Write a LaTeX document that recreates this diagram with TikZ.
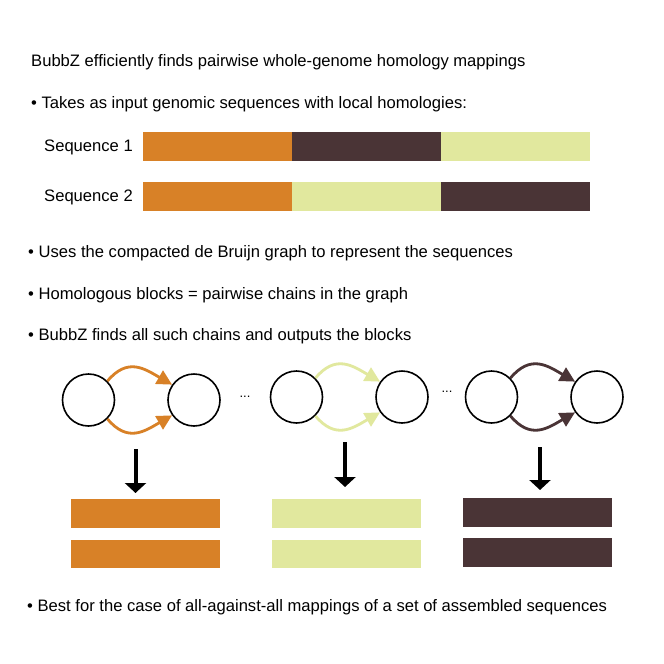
\documentclass[tikz,border=0pt]{standalone}
\usepackage{fontspec}
\setmainfont{Liberation Sans}
\usetikzlibrary{arrows.meta}
\definecolor{orng}{RGB}{216,129,39}
\definecolor{brwn}{RGB}{74,52,54}
\definecolor{lgrn}{RGB}{225,232,158}
\begin{document}
\begin{tikzpicture}[x=1pt,y=-1pt,
 txt/.style={anchor=base west, inner sep=0pt, font=\fontsize{16.6}{19}\selectfont},
 dots/.style={inner sep=0pt, font=\fontsize{13}{15}\selectfont},
 vert/.style={circle, draw=black, line width=1.6pt, minimum size=52pt, inner sep=0pt},
 arcedge/.style={line width=2.8pt, looseness=1.25, -{Triangle[length=15pt,width=15pt]}},
 downarrow/.style={line width=4pt, -{Triangle[length=10pt,width=21pt]}},
 seg/.style={anchor=north west, inner sep=0pt, minimum width=149pt, minimum height=28.5pt},
]
\useasboundingbox[fill=white] (0,0) rectangle (664,664);

% texts
\node[txt] (title) at (31,66) {BubbZ efficiently finds pairwise whole-genome homology mappings};
\node[txt] (b1) at (31,108) {• Takes as input genomic sequences with local homologies:};
\node[txt] (s1) at (44,151) {Sequence 1};
\node[txt] (s2) at (44,201) {Sequence 2};
\node[txt] (b2) at (28,257) {• Uses the compacted de Bruijn graph to represent the sequences};
\node[txt] (b3) at (28,299) {• Homologous blocks = pairwise chains in the graph};
\node[txt] (b4) at (28,340) {• BubbZ finds all such chains and outputs the blocks};
\node[txt] (b5) at (27,611) {• Best for the case of all-against-all mappings of a set of assembled sequences};

% sequences
\node[seg, fill=orng] (s1a) at (143,132) {};
\node[seg, fill=brwn] (s1b) at (292,132) {};
\node[seg, fill=lgrn] (s1c) at (441,132) {};
\node[seg, fill=orng] (s2a) at (143,182) {};
\node[seg, fill=lgrn] (s2b) at (292,182) {};
\node[seg, fill=brwn] (s2c) at (441,182) {};

% graph bubbles
\node[vert] (u1) at (88.5,400) {};
\node[vert] (v1) at (194,400) {};
\node[vert] (u2) at (296.5,397) {};
\node[vert] (v2) at (402,397) {};
\node[vert] (u3) at (491.5,397) {};
\node[vert] (v3) at (597,397) {};

\draw[arcedge, orng] (u1.45) to[out=50,in=150] (v1.145);
\draw[arcedge, orng] (u1.-45) to[out=-50,in=-150] (v1.-145);
\draw[arcedge, lgrn] (u2.45) to[out=50,in=150] (v2.145);
\draw[arcedge, lgrn] (u2.-45) to[out=-50,in=-150] (v2.-145);
\draw[arcedge, brwn] (u3.45) to[out=50,in=150] (v3.145);
\draw[arcedge, brwn] (u3.-45) to[out=-50,in=-150] (v3.-145);

\node[dots] (e1) at (245,397) {...};
\node[dots] (e2) at (447,392) {...};

% down arrows
\coordinate (d1s) at (135.5,449);
\coordinate (d1e) at (135.5,493);
\coordinate (d2s) at (345,442);
\coordinate (d2e) at (345,487);
\coordinate (d3s) at (540,447);
\coordinate (d3e) at (540,490);
\draw[downarrow] (d1s) -- (d1e);
\draw[downarrow] (d2s) -- (d2e);
\draw[downarrow] (d3s) -- (d3e);

% blocks
\node[seg, fill=orng] (o1) at (71,499) {};
\node[seg, fill=orng] (o2) at (71,539.5) {};
\node[seg, fill=lgrn] (g1) at (272,499) {};
\node[seg, fill=lgrn] (g2) at (272,539.5) {};
\node[seg, fill=brwn] (r1) at (463,498) {};
\node[seg, fill=brwn] (r2) at (463,538) {};
\end{tikzpicture}
\end{document}
